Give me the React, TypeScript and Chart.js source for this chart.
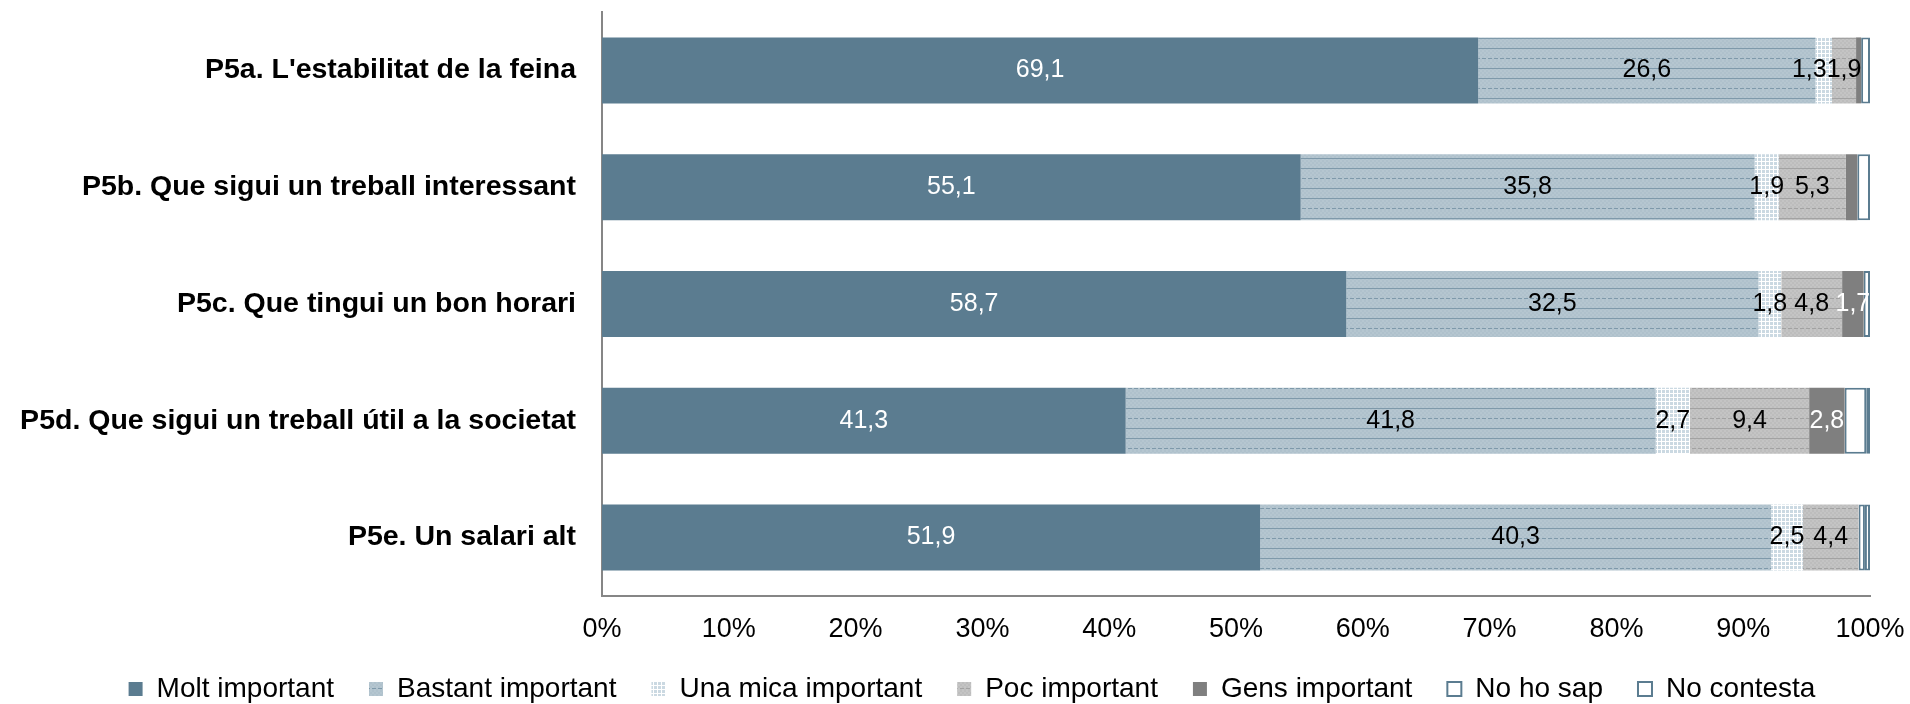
import React, { useEffect, useRef } from 'react';
import { Chart, registerables } from 'chart.js';

Chart.register(...registerables);

const categories = [
  "P5a. L'estabilitat de la feina",
  'P5b. Que sigui un treball interessant',
  'P5c. Que tingui un bon horari',
  'P5d. Que sigui un treball útil a la societat',
  'P5e. Un salari alt',
];

const seriesNames = [
  'Molt important',
  'Bastant important',
  'Una mica important',
  'Poc important',
  'Gens important',
  'No ho sap',
  'No contesta',
];

const moltImportant = [69.1, 55.1, 58.7, 41.3, 51.9];
const bastantImportant = [26.6, 35.8, 32.5, 41.8, 40.3];
const unaMicaImportant = [1.3, 1.9, 1.8, 2.7, 2.5];
const pocImportant = [1.9, 5.3, 4.8, 9.4, 4.4];
const gensImportant = [0.4, 0.9, 1.7, 2.8, 0];
const noHoSap = [0.7, 1.0, 0.5, 1.7, 0.5];
const noContesta = [0, 0, 0, 0.3, 0.4];

const xTickValues = [0, 10, 20, 30, 40, 50, 60, 70, 80, 90, 100];

const FONT = '"Liberation Sans", Arial, Helvetica, sans-serif';

function linePattern(base: string, alt: string, line: string) {
  const c = document.createElement('canvas');
  c.width = 12;
  c.height = 30;
  const g = c.getContext('2d')!;
  g.fillStyle = base;
  g.fillRect(0, 0, 12, 30);
  g.fillStyle = alt;
  for (let y = 0; y < 30; y += 2) {
    for (let x = (y / 2) % 2 === 0 ? 0 : 2; x < 12; x += 4) {
      g.fillRect(x, y, 2, 2);
    }
  }
  g.fillStyle = line;
  g.fillRect(0, 8, 12, 1);
  g.fillRect(0, 18, 12, 1);
  for (let x = 0; x < 12; x += 6) g.fillRect(x, 28, 4, 1);
  return g.createPattern(c, 'repeat')!;
}

function gridPattern() {
  const c = document.createElement('canvas');
  c.width = 4;
  c.height = 4;
  const g = c.getContext('2d')!;
  g.fillStyle = '#CBD9E2';
  g.fillRect(0, 0, 4, 4);
  g.fillStyle = '#FFFFFF';
  g.fillRect(1, 0, 1, 4);
  g.fillRect(0, 1, 4, 1);
  return g.createPattern(c, 'repeat')!;
}

const labelColors = ['#FFFFFF', '#000000', '#000000', '#000000', '#FFFFFF'];

const segLabels = {
  id: 'segLabels',
  afterLayout(chart: any) {
    if (chart.legend) {
      chart.legend.left += 74;
    }
  },
  afterDatasetsDraw(chart: any) {
    const ctx = chart.ctx;
    ctx.save();
    ctx.font = `25px ${FONT}`;
    ctx.textBaseline = 'middle';
    ctx.textAlign = 'left';
    const n = chart.data.labels.length;
    for (let i = 0; i < n; i++) {
      const items: any[] = [];
      for (let d = 0; d < labelColors.length; d++) {
        const v = chart.data.datasets[d].data[i];
        if (v < 1) continue;
        const el = chart.getDatasetMeta(d).data[i];
        const text = v.toFixed(1).replace('.', ',');
        const w = ctx.measureText(text).width;
        const cx = (el.x + el.base) / 2;
        items.push({ text, w, cx, y: el.y, color: labelColors[d] });
      }
      let limit = Infinity;
      for (let k = items.length - 1; k >= 0; k--) {
        const it = items[k];
        let left = it.cx - it.w / 2;
        if (left + it.w > limit) left = limit - it.w;
        ctx.fillStyle = it.color;
        ctx.fillText(it.text, left, it.y);
        limit = left;
      }
    }
    ctx.restore();
  },
};

export default function App() {
  const ref = useRef<HTMLCanvasElement>(null);

  useEffect(() => {
    document.body.style.margin = '0';
    const canvas = ref.current!;
    const values = [
      moltImportant,
      bastantImportant,
      unaMicaImportant,
      pocImportant,
      gensImportant,
      noHoSap,
      noContesta,
    ];
    const fills: any[] = [
      '#5B7C90',
      linePattern('#B5C6D0', '#AFC1CC', '#7E99AA'),
      gridPattern(),
      linePattern('#C4C4C4', '#BDBDBD', '#A2A2A2'),
      '#7F7F7F',
      '#FFFFFF',
      '#FFFFFF',
    ];
    const datasets = values.map((data, idx) => ({
      label: seriesNames[idx],
      data,
      backgroundColor: fills[idx],
      borderColor: idx >= 5 ? '#5B7C90' : 'rgba(0,0,0,0)',
      borderWidth: idx >= 5 ? 2 : 0,
      borderSkipped: false,
      barPercentage: 0.565,
      categoryPercentage: 1,
    }));

    const chart = new Chart(canvas, {
      type: 'bar',
      data: { labels: categories, datasets },
      plugins: [segLabels],
      options: {
        indexAxis: 'y',
        animation: false,
        responsive: false,
        maintainAspectRatio: false,
        layout: { padding: { top: 12, right: 40, bottom: -9, left: 0 } },
        plugins: {
          tooltip: { enabled: false },
          legend: {
            position: 'bottom',
            labels: {
              boxWidth: 14,
              boxHeight: 14,
              padding: 35,
              color: '#000000',
              font: { size: 28, family: FONT },
            },
          },
        },
        scales: {
          x: {
            stacked: true,
            min: 0,
            max: 100,
            afterBuildTicks: (scale: any) => {
              scale.ticks = xTickValues.map((v) => ({ value: v }));
            },
            afterFit: (scale: any) => {
              scale.height = 44;
              scale.paddingLeft = 0;
              scale.paddingRight = 0;
            },
            ticks: {
              callback: (v: any) => v + '%',
              color: '#000000',
              font: { size: 27, family: FONT, lineHeight: 0.74 },
              padding: 24,
              maxRotation: 0,
            },
            grid: { display: false, drawTicks: false },
            border: { display: true, color: '#868686', width: 2 },
          },
          y: {
            stacked: true,
            afterFit: (scale: any) => {
              scale.width = 602;
              scale.paddingTop = 0;
              scale.paddingBottom = 0;
            },
            ticks: {
              color: '#000000',
              font: { size: 28.5, weight: 'bold', family: FONT },
              padding: 26,
            },
            grid: { display: false, drawTicks: false },
            border: { display: true, color: '#868686', width: 2 },
          },
        },
      },
    } as any);
    return () => chart.destroy();
  }, []);

  return (
    <div style={{ width: 1910, height: 704 }}>
      <canvas ref={ref} width={1910} height={704} style={{ display: 'block' }} />
    </div>
  );
}
